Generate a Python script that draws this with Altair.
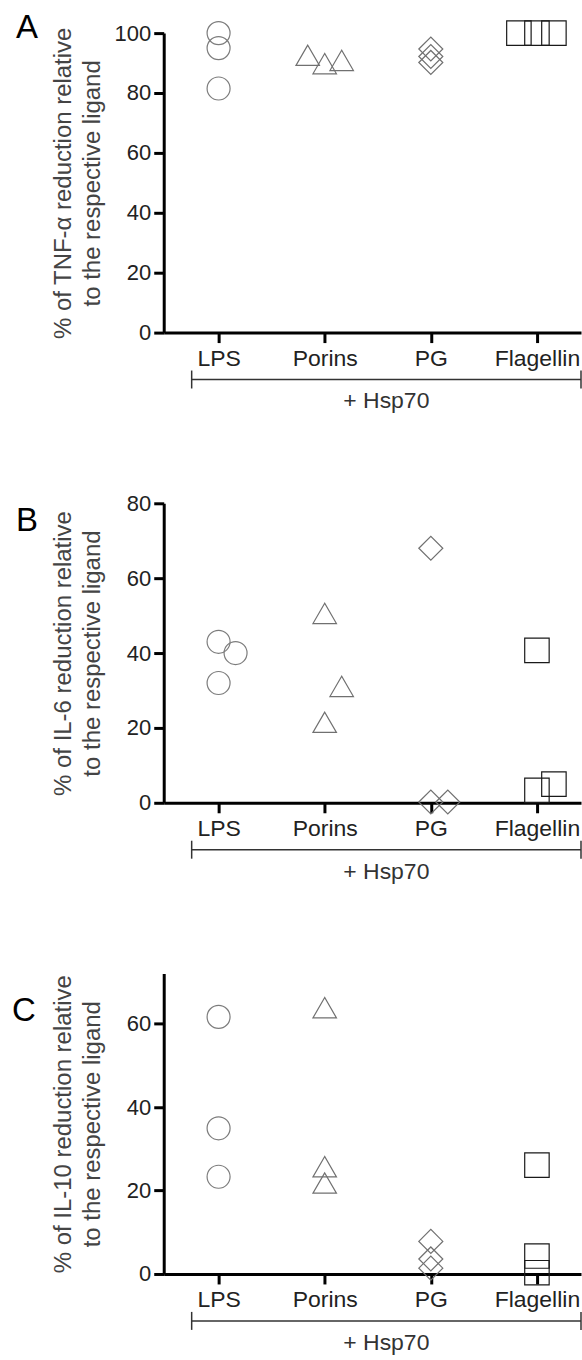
import altair as alt
import pandas as pd

# ---------------- data ----------------
categories = ["LPS", "Porins", "PG", "Flagellin"]

# Panel A: TNF-alpha
tnf_lps = [100.0, 95.0, 81.5]
tnf_porins = [92.6, 89.8, 90.9]
tnf_pg = [94.7, 92.2, 90.2]
tnf_flagellin = [100.0, 100.0, 100.0]
tnf_jitter = [[0, 0, 0], [-0.16, 0, 0.16], [0, 0, 0], [-0.17, 0, 0.16]]

# Panel B: IL-6
il6_lps = [43.0, 40.0, 32.0]
il6_porins = [50.6, 31.1, 21.5]
il6_pg = [68.0, 0.2, 0.2]
il6_flagellin = [40.7, 3.3, 5.0]
il6_jitter = [[0, 0.16, 0], [0, 0.16, 0], [0, 0, 0.16], [0, 0, 0.16]]

# Panel C: IL-10
il10_lps = [61.6, 34.9, 23.3]
il10_porins = [63.8, 25.7, 21.8]
il10_pg = [7.8, 3.6, 1.4]
il10_flagellin = [26.1, 4.3, 0.3]
il10_jitter = [[0, 0, 0], [0, 0, 0], [0, 0, 0], [0, 0, 0]]

ticks_a = [0, 20, 40, 60, 80, 100]
ticks_b = [0, 20, 40, 60, 80]
ticks_c = [0, 20, 40, 60]

title_a = ["% of TNF-\u03b1 reduction relative", "to the respective ligand"]
title_b = ["% of IL-6 reduction relative", "to the respective ligand"]
title_c = ["% of IL-10 reduction relative", "to the respective ligand"]

bracket_label = "+ Hsp70"

# ---------------- styling ----------------
marker_shapes = ["circle", "triangle-up", "diamond", "square"]
marker_colors = ["#7c7c7c", "#707070", "#707070", "#1a1a1a"]
marker_sizes = [530, 600, 760, 500]
marker_widths = [1.2, 1.2, 1.2, 1.8]

FONT = "Liberation Sans"
W = 418
STEP = 106.3
X0 = -0.517
XDOM = [X0, X0 + W / STEP]

label_expr = "[" + ",".join("'%s'" % c for c in categories) + "][datum.value]"


def make_df(groups, jitters):
    rows = []
    for cat, vals, jit in zip(categories, groups, jitters):
        for v, j in zip(vals, jit):
            rows.append({"category": cat, "idx": categories.index(cat), "dx": j, "value": v})
    return pd.DataFrame(rows)


one_row = pd.DataFrame({"k": [0]})


def panel(df, letter, title, ydomain, yticks, H, letter_xy, anchor=False):
    pts = (
        alt.Chart(df)
        .transform_calculate(xpos="datum.idx + datum.dx")
        .mark_point(filled=False, opacity=1)
        .encode(
            x=alt.X(
                "xpos:Q",
                scale=alt.Scale(domain=XDOM, nice=False, zero=False),
                axis=alt.Axis(
                    values=[0, 1, 2, 3],
                    labelExpr=label_expr,
                    title=None,
                    grid=False,
                    domainColor="black",
                    domainWidth=3,
                    tickColor="black",
                    tickWidth=3,
                    tickSize=10,
                    labelFontSize=23,
                    labelColor="#222",
                    labelFont=FONT,
                    labelPadding=5,
                    labelOverlap=False,
                    labelFlush=False,
                ),
            ),
            y=alt.Y(
                "value:Q",
                scale=alt.Scale(domain=ydomain, nice=False, zero=True),
                axis=alt.Axis(
                    values=yticks,
                    title=title,
                    titleAngle=270,
                    titleX=-100,
                    titleY=H / 2,
                    titleAlign="center",
                    titleBaseline="middle",
                    titleLineHeight=29,
                    titleFontSize=24,
                    titleFontWeight="normal",
                    titleColor="#444",
                    titleFont=FONT,
                    grid=False,
                    domainColor="black",
                    domainWidth=3,
                    tickColor="black",
                    tickWidth=3,
                    tickSize=10,
                    labelFontSize=22,
                    labelColor="#222",
                    labelFont=FONT,
                    labelPadding=3,
                ),
            ),
            shape=alt.Shape("category:N", scale=alt.Scale(domain=categories, range=marker_shapes), legend=None),
            stroke=alt.Stroke("category:N", scale=alt.Scale(domain=categories, range=marker_colors), legend=None),
            size=alt.Size("category:O", scale=alt.Scale(domain=categories, range=marker_sizes), legend=None),
            strokeWidth=alt.StrokeWidth("category:O", scale=alt.Scale(domain=categories, range=marker_widths), legend=None),
        )
    )

    ann = alt.Chart(one_row)
    bracket = ann.mark_rule(color="#333", strokeWidth=1.5).encode(
        x=alt.value(28), x2=alt.value(418), y=alt.value(H + 47)
    )
    end_l = ann.mark_rule(color="#333", strokeWidth=1.5).encode(
        x=alt.value(28), y=alt.value(H + 38), y2=alt.value(H + 56)
    )
    end_r = ann.mark_rule(color="#333", strokeWidth=1.5).encode(
        x=alt.value(418), y=alt.value(H + 38), y2=alt.value(H + 56)
    )
    hsp = ann.mark_text(text=bracket_label, fontSize=23, font=FONT, color="#333", baseline="middle", align="center").encode(
        x=alt.value(223), y=alt.value(H + 69)
    )
    let = ann.mark_text(text=letter, fontSize=33, font=FONT, color="black", baseline="middle", align="center").encode(
        x=alt.value(letter_xy[0]), y=alt.value(letter_xy[1])
    )
    layers = [pts, bracket, end_l, end_r, hsp, let]
    if anchor:
        layers.append(
            ann.mark_rule(color="white", strokeWidth=0.01).encode(
                x=alt.value(-163), x2=alt.value(-162), y=alt.value(-31)
            )
        )
    return alt.layer(*layers).properties(width=W, height=H)


df_a = make_df([tnf_lps, tnf_porins, tnf_pg, tnf_flagellin], tnf_jitter)
df_b = make_df([il6_lps, il6_porins, il6_pg, il6_flagellin], il6_jitter)
df_c = make_df([il10_lps, il10_porins, il10_pg, il10_flagellin], il10_jitter)

pa = panel(df_a, "A", title_a, [0, 100], ticks_a, 300, (-137, -5), anchor=True)
pb = panel(df_b, "B", title_b, [0, 80], ticks_b, 300, (-137, 18))
pc = panel(df_c, "C", title_c, [0, 72], ticks_c, 301, (-140, 38))

chart = (
    alt.vconcat(pa, pb, pc, spacing=171, bounds="flush")
    .properties(padding=0)
    .configure(font=FONT)
    .configure_view(strokeWidth=0, stroke="transparent")
)

chart.save("out.html", embed_options={"renderer": "svg", "actions": False})
